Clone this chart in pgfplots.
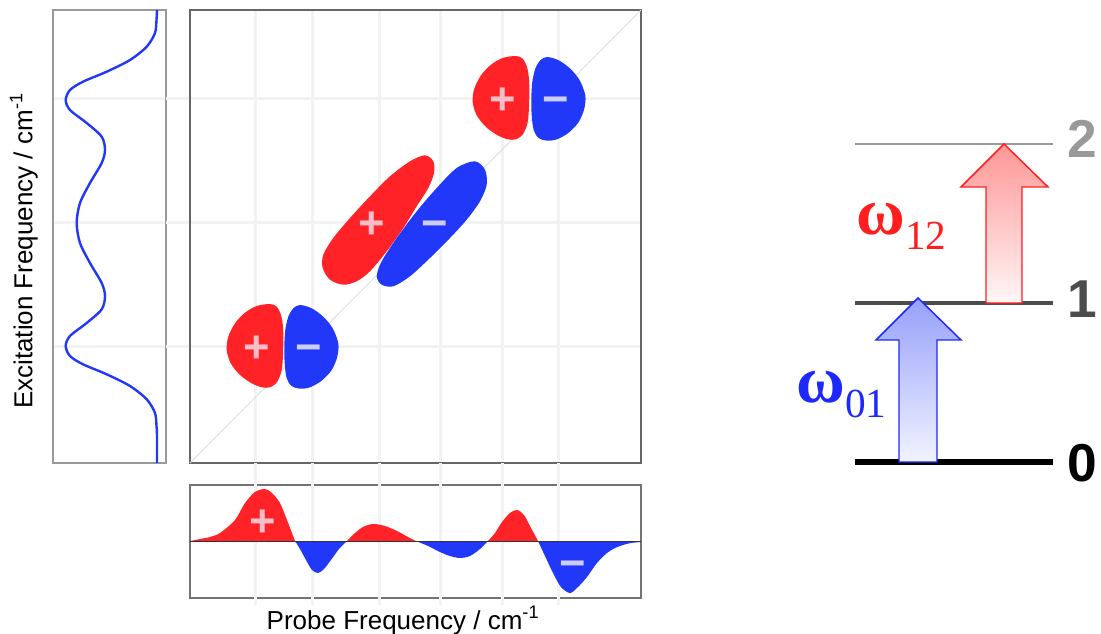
\documentclass[border=0pt]{standalone}
\usepackage{pgfplots}
\pgfplotsset{compat=1.18}
\usepackage{fontspec}
\setmainfont{Liberation Sans}
\newfontfamily\seriffont{Liberation Serif}
\definecolor{pred}{RGB}{255,34,38}
\definecolor{pblue}{RGB}{34,56,248}
\definecolor{pluscol}{RGB}{247,190,200}
\definecolor{minuscol}{RGB}{205,205,245}
\definecolor{gridc}{RGB}{242,242,242}
\definecolor{wred}{RGB}{255,30,30}
\definecolor{wblue}{RGB}{30,40,250}
\pgfplotsset{
  panel/.style={scale only axis, anchor=south west, clip=false,
    major tick length=0pt, xticklabels={}, yticklabels={},
    major grid style={gridc, line width=2.25pt},
    axis line style={black!55, line width=0.8pt}},
}
\tikzset{sign/.style={font=\bfseries\fontsize{34}{36}\selectfont, anchor=base, yshift=-12pt, inner sep=0pt}}
\begin{document}
\begin{tikzpicture}
\useasboundingbox (0,0) rectangle (825.75pt,474.75pt);
% ---------------- left spectrum ----------------
\begin{axis}[panel, at={(39.75pt,127.5pt)}, width=84.75pt, height=339.75pt,
  xmin=0, xmax=113, ymin=0, ymax=453, xtick=\empty, ytick={116,240,364}, ymajorgrids,
  axis line style={black!40, line width=0.8pt}]
\addplot[gridc, line width=2.25pt] coordinates {(113,116) (137,116)};
\addplot[gridc, line width=2.25pt] coordinates {(113,240) (137,240)};
\addplot[gridc, line width=2.25pt] coordinates {(113,364) (137,364)};
\addplot[pblue, line width=1.8pt, smooth] coordinates {
(104,453) (103.5,443) (102,430) (93.7,416.3) (77,403) (53.7,391.3) (30,381.3) (17,373) (12.7,363)
(17,353) (33.7,340) (48.7,326.3) (52,313) (48.7,300) (37,280) (27,260) (23.7,240)
(27,220) (37,200) (48.7,180) (52,167) (48.7,153.7) (33.7,140) (17,127) (12.7,117)
(17,107) (30,98.7) (53.7,88.7) (77,77) (93.7,63.7) (102,50) (103.5,37) (104,27) (104,0)};
\node[rotate=90, anchor=base, font=\fontsize{19.5}{22}\selectfont] at (axis cs:-20.5,212) {Excitation Frequency / cm\textsuperscript{-1}};
\end{axis}
% ---------------- main 2D panel ----------------
\begin{axis}[panel, at={(142.5pt,127.5pt)}, width=338.25pt, height=339.75pt,
  xmin=0, xmax=451, ymin=0, ymax=453, xtick={65,122,189,250,312,368}, ytick={116,240,364}, grid=major,
  axis line style={black!60, line width=0.8pt}]
\addplot[black!12, line width=0.7pt] coordinates {(0,0) (451,453)};
% bottom-left pair
\addplot[fill=pred, draw=none, smooth cycle] coordinates {
(80,159) (86.7,156.3) (91,148) (93,136.3) (93.3,123) (93,108) (91.7,93) (87.3,81.3) (80,75.7) (71.7,75.7)
(61.7,79.7) (50,88) (40.7,99.7) (36.7,113) (38.3,126.3) (45,139.7) (55,150.3) (66.7,157)};
\addplot[fill=pblue, draw=none, smooth cycle] coordinates {
(110,158) (121.7,154.7) (133.3,146.3) (142.7,134.7) (148.3,119.7) (147.3,106.3) (141.7,93) (131.7,82.3)
(120,75.7) (110,74.3) (101.7,77) (96.7,84.7) (94.7,99.7) (94.3,116.3) (95.3,133) (98.3,146.3) (103.3,154.7)};
% middle pair
\addplot[fill=pred, draw=none, smooth cycle] coordinates {
(235,307.7) (243.3,301.7) (244,290) (238.3,275) (226.7,256.7) (213.3,235) (196.7,211.7) (180,191.7) (166.7,181.7)
(153.3,178.3) (140,183.3) (132.7,195) (133.3,208.3) (143.3,225) (160,245) (180,266.7) (200,286.7) (220,301.7)};
\addplot[fill=pblue, draw=none, smooth cycle] coordinates {
(285,301.7) (295,293.3) (296.7,278.3) (290,261.7) (276.7,243.3) (260,225) (240,205) (220,186.7) (203.3,176.7)
(191.7,178.3) (186.7,186.7) (191.7,201.7) (206.7,225) (226.7,251.7) (246.7,275) (266.7,295)};
% top-right pair
\addplot[fill=pred, draw=none, smooth cycle] coordinates {
(326,407) (332.7,404.3) (337,396) (339,384.3) (339.3,371) (339,356) (337.7,341) (333.3,329.3) (326,323.7) (317.7,323.7)
(307.7,327.7) (296,336) (286.7,347.7) (282.7,361) (284.3,374.3) (291,387.7) (301,398.3) (312.7,405)};
\addplot[fill=pblue, draw=none, smooth cycle] coordinates {
(357,406) (368.7,402.7) (380.3,394.3) (389.7,382.7) (395.3,367.7) (394.3,354.3) (388.7,341) (378.7,330.3)
(367,323.7) (357,322.3) (348.7,325) (343.7,332.7) (341.7,347.7) (341.3,364.3) (342.3,381) (345.3,394.3) (350.3,402.7)};
\node[sign, text=pluscol] at (axis cs:67,116) {+};
\node[sign, text=minuscol] at (axis cs:119,116) {−};
\node[sign, text=pluscol] at (axis cs:182,240) {+};
\node[sign, text=minuscol] at (axis cs:245,240) {−};
\node[sign, text=pluscol] at (axis cs:313,364) {+};
\node[sign, text=minuscol] at (axis cs:366,364) {−};
\end{axis}
% ---------------- bottom spectrum ----------------
\begin{axis}[panel, at={(142.5pt,26.25pt)}, width=338.25pt, height=84.75pt,
  xmin=0, xmax=451, ymin=-57, ymax=56, xtick={65,122,189,250,312,368}, ytick=\empty, xmajorgrids,
  axis line style={black!55, line width=0.8pt}]
\addplot[gridc, line width=2.25pt] coordinates {(65,-64) (65,78)};
\addplot[gridc, line width=2.25pt] coordinates {(122,-64) (122,78)};
\addplot[gridc, line width=2.25pt] coordinates {(189,-64) (189,78)};
\addplot[gridc, line width=2.25pt] coordinates {(250,-64) (250,78)};
\addplot[gridc, line width=2.25pt] coordinates {(312,-64) (312,78)};
\addplot[gridc, line width=2.25pt] coordinates {(368,-64) (368,78)};
\addplot[fill=pred, draw=none, smooth] coordinates {(0,0) (10,2) (20,4) (30,8) (45,21) (55,38) (65,49) (75,52) (82,48) (90,38) (97,21) (102,8) (105,0)} \closedcycle;
\addplot[fill=pblue, draw=none, smooth] coordinates {(105,0) (110,-8) (116,-19) (122,-29) (128,-32) (134,-28) (141,-19) (149,-8) (157,0)} \closedcycle;
\addplot[fill=pred, draw=none, smooth] coordinates {(157,0) (165,8) (173,14) (183,17) (195,15) (207,10) (218,4) (226,0)} \closedcycle;
\addplot[fill=pblue, draw=none, smooth] coordinates {(226,0) (238,-5) (250,-11) (260,-15) (270,-17) (280,-15) (290,-8) (298,0)} \closedcycle;
\addplot[fill=pred, draw=none, smooth] coordinates {(298,0) (305,8) (312,19) (320,28) (327,31) (334,26) (341,13) (348,0)} \closedcycle;
\addplot[fill=pblue, draw=none, smooth] coordinates {(348,0) (355,-15) (363,-32) (371,-46) (380,-52) (388,-46) (397,-36) (407,-22) (417,-12) (425,-7) (433,-4) (441,-2) (451,-1)} \closedcycle;
\addplot[black!80, line width=0.6pt] coordinates {(0,0) (451,0)};
\node[sign, text=pluscol] at (axis cs:73,21) {+};
\node[sign, text=minuscol] at (axis cs:383,-21) {−};
\node[anchor=base, font=\fontsize{19.5}{22}\selectfont] at (axis cs:213,-88) {Probe Frequency / cm\textsuperscript{-1}};
\end{axis}
% ---------------- energy level diagram ----------------
\begin{axis}[scale only axis, anchor=south west, at={(585pt,99.75pt)}, width=240pt, height=300pt,
  xmin=780, xmax=1100, ymin=133, ymax=533, hide axis, clip=false]
\addplot[black!40, line width=2.2pt] coordinates {(855,489) (1053,489)};
\addplot[black!70, line width=3pt] coordinates {(855,330) (1053,330)};
\addplot[black, line width=3.8pt] coordinates {(855,171) (1053,171)};
\addplot[draw=wblue, line width=1.1pt, top color={rgb,255:red,150;green,160;blue,250}, bottom color={rgb,255:red,242;green,244;blue,255}]
  coordinates {(899,171) (937,171) (937,293) (961,293) (918,335) (876,293) (899,293)} -- cycle;
\addplot[draw=wred, line width=1.1pt, top color={rgb,255:red,255;green,150;blue,150}, bottom color={rgb,255:red,255;green,246;blue,246}]
  coordinates {(986,330) (1022,330) (1022,446) (1048,446) (1004,489) (961,446) (986,446)} -- cycle;
\node[anchor=base, text=black!40, font=\bfseries\fontsize{40}{44}\selectfont] at (axis cs:1082,475) {2};
\node[anchor=base, text=black!70, font=\bfseries\fontsize{40}{44}\selectfont] at (axis cs:1082,315) {1};
\node[anchor=base, text=black, font=\bfseries\fontsize{40}{44}\selectfont] at (axis cs:1082,151) {0};
\node[anchor=base west, inner sep=0pt, text=wred] at (axis cs:856,398) {\seriffont\fontsize{50}{54}\selectfont\textbf{ω}\raisebox{-11.25pt}{\fontsize{31}{34}\selectfont 12}};
\node[anchor=base west, inner sep=0pt, text=wblue] at (axis cs:796,230) {\seriffont\fontsize{50}{54}\selectfont\textbf{ω}\raisebox{-11.25pt}{\fontsize{31}{34}\selectfont 01}};
\end{axis}
\end{tikzpicture}
\end{document}
